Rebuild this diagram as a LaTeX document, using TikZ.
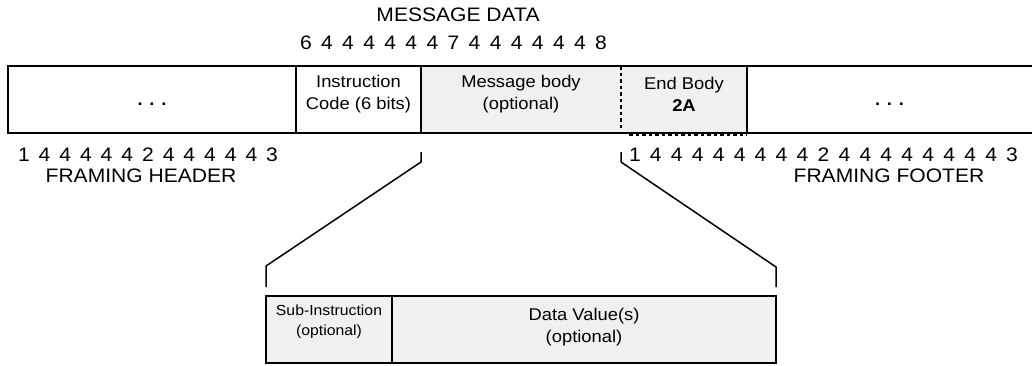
\documentclass[tikz,border=0pt]{standalone}
\usepackage{fontspec}
\setmainfont[FakeStretch=1.08]{Liberation Sans}
\begin{document}
\begin{tikzpicture}[x=1pt,y=-1pt,
  field/.style={inner sep=0pt, outer sep=0pt, minimum height=67pt},
  shaded/.style={fill=black!6},
  frame/.style={line width=2pt},
  thin frame/.style={line width=1.6pt},
  brace line/.style={line width=1.5pt, line join=miter},
  end dash/.style={line width=1.6pt, dash pattern=on 3.5pt off 3pt},
  boxtext/.style={align=center, inner sep=0pt, font=\fontsize{17}{22}\selectfont},
  smalltext/.style={align=center, inner sep=0pt, font=\fontsize{14.6}{20}\selectfont},
  label/.style={inner sep=0pt, font=\fontsize{19.5}{22}\selectfont}]
\useasboundingbox (0,0) rectangle (1032,365);

% message frame fields
\node[field, minimum width=288pt] (hdr) at (152,99.5) {};
\node[field, minimum width=125pt] (ic) at (358.5,99.5) {};
\node[field, shaded, minimum width=200pt] (body) at (521,99.5) {};
\node[field, shaded, minimum width=126pt] (endb) at (684,99.5) {};
\node[field, minimum width=285pt] (ftr) at (889.5,99.5) {};

% frame outline and separators
\draw[frame] (ftr.north east) -- (hdr.north west) -- (hdr.south west) -- (ftr.south east);
\draw[frame] (hdr.north east) -- (hdr.south east);
\draw[frame] (ic.north east) -- (ic.south east);
\draw[frame] (endb.north east) -- (endb.south east);
\draw[end dash] (endb.north west) -- ([yshift=2pt]endb.south west);
\draw[end dash] ([xshift=8pt,yshift=-1.8pt]endb.south west) -- ([yshift=-1.8pt]endb.south east);

% field texts
\node[boxtext] (dots1) at ([yshift=-5pt]hdr.center) {\textbf{. . .}};
\node[boxtext] (ictext) at ([yshift=5pt]ic.center) {Instruction\\Code (6 bits)};
\node[boxtext] (bodytext) at ([yshift=5pt]body.center) {Message body\\(optional)};
\node[boxtext] (endtext) at ([yshift=5pt]endb.center) {End Body\\\textbf{2A}};
\node[boxtext] (dots2) at ([yshift=-5pt]ftr.center) {\textbf{. . .}};

% labels above and below
\node[label] (msg) at (458,14.5) {MESSAGE DATA};
\node[label] (msgbrace) at (453.5,43) {\makebox[307pt][s]{6 4 4 4 4 4 4 7 4 4 4 4 4 4 8}};
\node[label] (hbrace) at (148,155) {\makebox[260pt][s]{1 4 4 4 4 4 2 4 4 4 4 4 3}};
\node[label] (hname) at (141,176) {FRAMING HEADER};
\node[label] (fbrace) at (823.5,155) {\makebox[389pt][s]{1 4 4 4 4 4 4 4 4 2 4 4 4 4 4 4 4 4 3}};
\node[label] (fname) at (889,176) {FRAMING FOOTER};

% message body breakdown
\node[field, shaded, minimum width=126pt] (sub) at (329,329.5) {};
\node[field, shaded, minimum width=384pt] (data) at (584,329.5) {};
\draw[thin frame] (sub.north west) rectangle (data.south east);
\draw[thin frame] (sub.north east) -- (sub.south east);
\node[smalltext] (subtext) at ([yshift=7.5pt]sub.center) {Sub-Instruction\\(optional)};
\node[boxtext] (datatext) at ([yshift=2pt]data.center) {Data Value(s)\\(optional)};

% expansion lines
\draw[brace line] ([yshift=-19pt]body.south west) -- ++(0,10)
  -- ([yshift=30pt]sub.north west) -- ([yshift=9pt]sub.north west);
\draw[brace line] ([yshift=-19pt]endb.south west) -- ++(0,10)
  -- ([yshift=29pt]data.north east) -- ([yshift=9pt]data.north east);
\end{tikzpicture}
\end{document}
